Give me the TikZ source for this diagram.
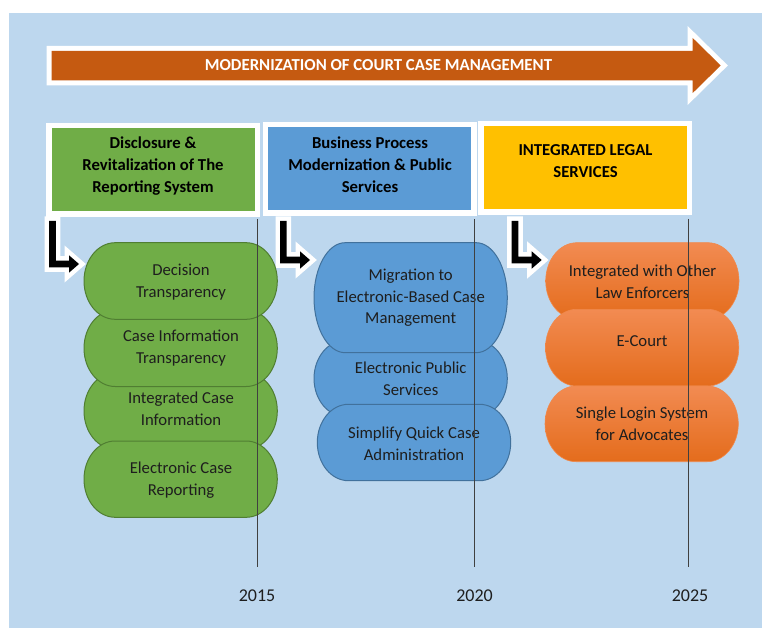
\documentclass[tikz,border=0pt]{standalone}
\usepackage{fontspec}
\setmainfont{Carlito}
\definecolor{bgblue}{HTML}{BDD7EE}
\definecolor{arrorange}{HTML}{C55A11}
\definecolor{pgreen}{HTML}{70AD47}
\definecolor{pgreenD}{HTML}{507E32}
\definecolor{pblue}{HTML}{5B9BD5}
\definecolor{pblueD}{HTML}{41719C}
\definecolor{pyellow}{HTML}{FFC000}
\definecolor{porTop}{HTML}{F28B52}
\definecolor{porBot}{HTML}{E46C1C}
\definecolor{porD}{HTML}{F0894C}
\definecolor{txt}{HTML}{1E1E1E}
\definecolor{tline}{HTML}{404040}
\newcommand\tpill[5]{%
  \path[#5] ({#1+0.161*#3},{-#2}) -- ({#1+0.839*#3},{-#2})
    arc[start angle=90,end angle=-90,x radius={0.161*#3},y radius={#4/2}]
    -- ({#1+0.161*#3},{-#2-#4})
    arc[start angle=270,end angle=90,x radius={0.161*#3},y radius={#4/2}] -- cycle;}
\newcommand\bentarr[3]{%
  \path[bentarrow] ({#1-3.3},-221) -- ({#1+3.3},-221) -- ({#1+3.3},{-#2+3.3})
    -- ({#3-10},{-#2+3.3}) -- ({#3-10},{-#2+8.7}) -- (#3,{-#2})
    -- ({#3-10},{-#2-8.7}) -- ({#3-10},{-#2-3.3}) -- ({#1-3.3},{-#2-3.3}) -- cycle;}
\tikzset{
  bentarrow/.style={preaction={draw=white,line width=9pt,line join=miter}, fill=black},
  hdrbox/.style={draw=white, line width=5.5pt, minimum width=208.5pt, minimum height=88.5pt, inner sep=0pt},
  hdrtext/.style={align=center, inner sep=0pt, text=black, font=\bfseries\fontsize{16.7}{22}\selectfont},
  pilltext/.style={align=center, inner sep=0pt, text=txt, font=\fontsize{16.7}{21.8}\selectfont},
  greenpill/.style={fill=pgreen, draw=pgreenD, line width=1pt},
  bluepill/.style={fill=pblue, draw=pblueD, line width=1pt},
  orangepill/.style={top color=porTop, bottom color=porBot, draw=porD, line width=0.6pt},
  tl/.style={draw=tline, line width=1pt},
  yeartext/.style={inner sep=0pt, text=txt, font=\fontsize{18}{20}\selectfont}
}
\begin{document}
\begin{tikzpicture}[x=1pt,y=1pt]
\useasboundingbox (0,0) rectangle (762,-628);
\fill[bgblue] (9,-13) rectangle (762,-628);
% big arrow
\path[preaction={draw=white,line width=10pt,line join=miter}, fill=arrorange]
  (51.7,-51) -- (692.7,-51) -- (692.7,-38) -- (720.7,-65.5) -- (692.7,-93)
  -- (692.7,-80.5) -- (51.7,-80.5) -- cycle;
\node[text=white, inner sep=0pt, font=\bfseries\fontsize{16.8}{19}\selectfont] (title) at (378.5,-65.5) {MODERNIZATION OF COURT CASE MANAGEMENT};
% header boxes
\node[hdrbox, fill=pgreen] (h1) at (153.3,-170) {};
\node[hdrbox, fill=pblue] (h2) at (369.6,-168.8) {};
\node[hdrbox, fill=pyellow] (h3) at (585,-167.8) {};
\node[hdrtext] (h1t) at (153,-166) {Disclosure \&\\Revitalization of The\\Reporting System};
\node[hdrtext] (h2t) at (370,-165) {Business Process\\Modernization \& Public\\Services};
\node[hdrtext] (h3t) at (585.5,-161) {INTEGRATED LEGAL\\SERVICES};
% bent arrows
\bentarr{52.5}{264}{79}
\bentarr{283.3}{260}{310}
\bentarr{515}{260}{541.7}
% green pills
\tpill{84}{372.7}{193.3}{76.5}{greenpill}
\tpill{84}{310}{193.3}{76.5}{greenpill}
\tpill{84}{242.7}{193.3}{76.6}{greenpill}
\tpill{84}{441}{193.3}{76.3}{greenpill}
\node[pilltext] (g1) at (181,-282) {Decision\\Transparency};
\node[pilltext] (g2) at (181,-348) {Case Information\\Transparency};
\node[pilltext] (g3) at (181,-408.5) {Integrated Case\\Information};
\node[pilltext] (g4) at (181,-480) {Electronic Case\\Reporting};
% blue pills
\tpill{314}{340.5}{193.3}{76}{bluepill}
\tpill{314}{242.7}{193.3}{110}{bluepill}
\tpill{317.3}{404.3}{193.4}{76.4}{bluepill}
\node[pilltext] (b1) at (410.7,-297.7) {Migration to\\Electronic-Based Case\\Management};
\node[pilltext] (b2) at (410.7,-379) {Electronic Public\\Services};
\node[pilltext] (b3) at (414,-444) {Simplify Quick Case\\Administration};
% orange pills
\tpill{545.7}{242.7}{193.3}{76.5}{orangepill}
\tpill{545.5}{309.3}{193.3}{76.7}{orangepill}
\tpill{545}{386}{193.3}{75.7}{orangepill}
\node[pilltext] (o1) at (642.5,-281.7) {Integrated with Other\\Law Enforcers};
\node[pilltext] (o2) at (642,-341) {E-Court};
\node[pilltext] (o3) at (642,-423.5) {Single Login System\\for Advocates};
% timeline
\coordinate (t1a) at (257.7,-219); \coordinate (t1b) at (257.7,-567);
\coordinate (t2a) at (474,-219);   \coordinate (t2b) at (474,-567);
\coordinate (t3a) at (688.5,-219); \coordinate (t3b) at (688.5,-567);
\draw[tl] (t1a) -- (t1b);
\draw[tl] (t2a) -- (t2b);
\draw[tl] (t3a) -- (t3b);
\node[yeartext] (y1) at (257,-595.7) {2015};
\node[yeartext] (y2) at (474.5,-595.7) {2020};
\node[yeartext] (y3) at (690,-595.7) {2025};
\end{tikzpicture}
\end{document}
